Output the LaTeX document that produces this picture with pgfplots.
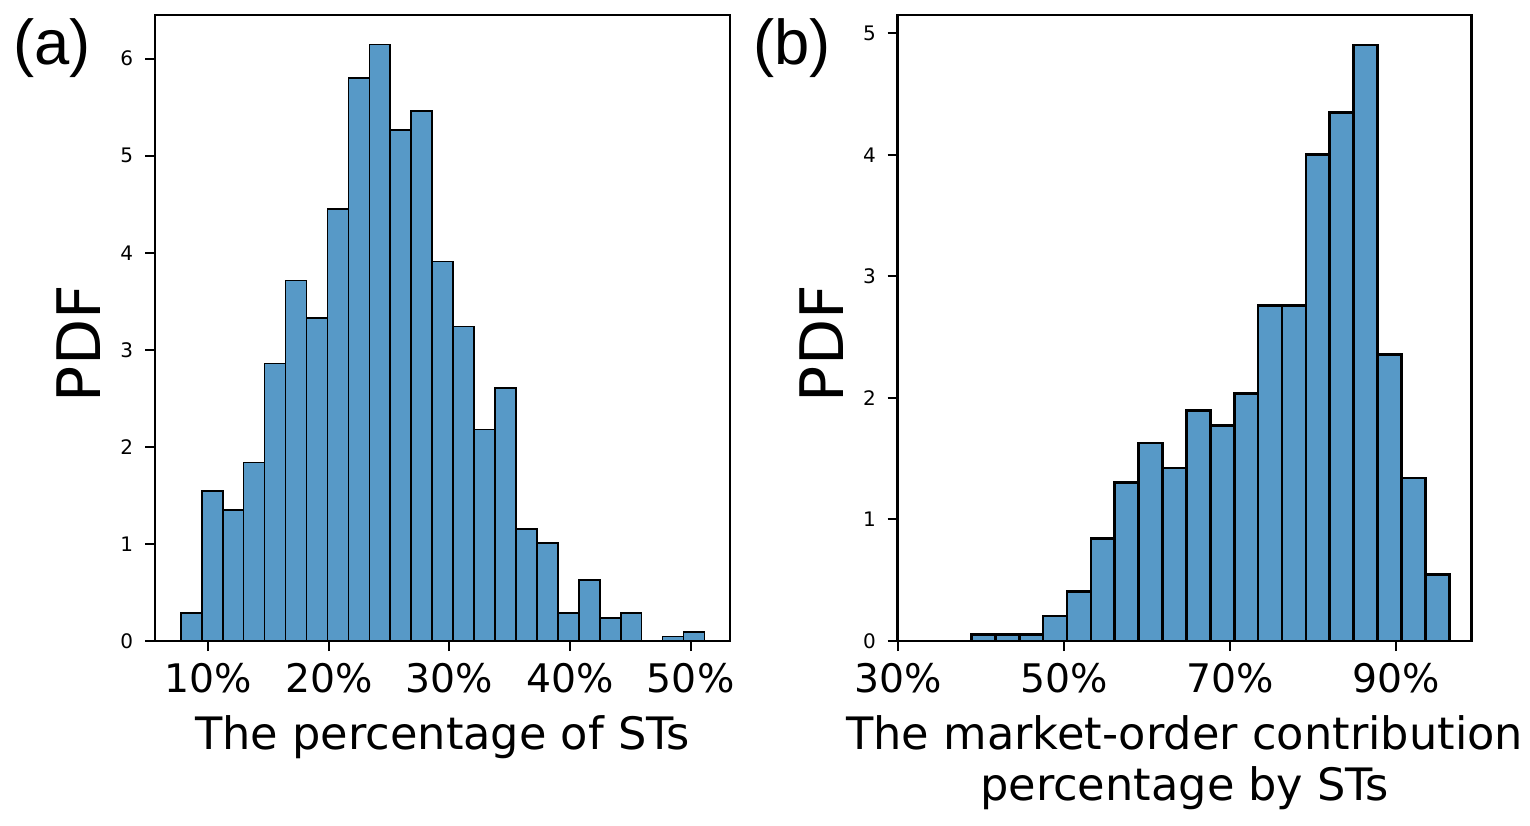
\documentclass[border=0pt]{standalone}
\usepackage{fontspec}
\setmainfont{DejaVu Sans}
\newfontfamily\panelfont{Liberation Sans}
\usepackage{pgfplots}
\pgfplotsset{compat=1.18}
\definecolor{barblue}{RGB}{87,153,199}
\begin{document}
\begin{tikzpicture}
\path[use as bounding box] (0,0) rectangle (459pt,-247.5pt);
\pgfplotsset{
  myaxis/.style={
    scale only axis, height=187.8pt, ymin=0,
    axis line style={line width=0.8pt},
    tick align=outside, xtick pos=bottom, ytick pos=left,
    major tick length=3pt,
    every tick/.style={black, line width=0.6pt},
    /pgf/number format/assume math mode=true,
    yticklabel style={font=\fontsize{6}{7}\selectfont},
    xticklabel style={font=\fontsize{11.8}{13}\selectfont},
    ylabel style={font=\fontsize{18}{20}\selectfont, at={(axis description cs:-0.094,0.475)}, anchor=south, inner sep=0pt},
    xlabel style={font=\fontsize{13.4}{15.4}\selectfont, at={(axis description cs:0.5,-0.118)}, anchor=north, inner sep=0pt, align=center},
    ylabel={PDF},
  }
}
\begin{axis}[myaxis, at={(46.5pt,-4.5pt)}, anchor=north west, width=172.5pt,
  xmin=5.58, xmax=53.26, ymax=6.45,
  xtick={10,20,30,40,50}, xticklabels={10\%,20\%,30\%,40\%,50\%},
  ytick={0,1,2,3,4,5,6},
  xlabel={The percentage of STs}]
\addplot[ybar interval, fill=barblue, draw=black, line width=0.5pt] coordinates {
(7.72,0.29) (9.457,1.546) (11.194,1.35) (12.931,1.84) (14.668,2.86) (16.405,3.714)
(18.142,3.33) (19.879,4.45) (21.616,5.80) (23.353,6.145) (25.09,5.266) (26.827,5.46)
(28.564,3.91) (30.301,3.24) (32.038,2.18) (33.775,2.61) (35.512,1.155) (37.249,1.01)
(38.986,0.29) (40.723,0.63) (42.46,0.24) (44.197,0.29) (45.934,0) (47.671,0.045)
(49.408,0.096) (51.145,0)};
\end{axis}
\begin{axis}[myaxis, at={(269.3pt,-4.5pt)}, anchor=north west, width=172.2pt,
  xmin=29.95, xmax=99.15, ymax=5.15,
  xtick={30,50,70,90}, xticklabels={30\%,50\%,70\%,90\%},
  ytick={0,1,2,3,4,5},
  xlabel={The market-order contribution\\percentage by STs}]
\addplot[ybar interval, fill=barblue, draw=black, line width=0.8pt] coordinates {
(38.85,0.055) (41.73,0.055) (44.61,0.055) (47.49,0.206) (50.37,0.407) (53.25,0.846)
(56.13,1.305) (59.01,1.63) (61.89,1.423) (64.77,1.896) (67.65,1.772) (70.53,2.036)
(73.41,2.759) (76.29,2.759) (79.17,4.005) (82.05,4.35) (84.93,4.904) (87.81,2.357)
(90.69,1.34) (93.57,0.55) (96.45,0)};
\end{axis}
\node[anchor=north west, inner sep=0pt, font=\panelfont\fontsize{19}{20}\selectfont] at (3.9pt,-5.4pt) {(a)};
\node[anchor=north west, inner sep=0pt, font=\panelfont\fontsize{19}{20}\selectfont] at (225.9pt,-5.4pt) {(b)};
\end{tikzpicture}
\end{document}
